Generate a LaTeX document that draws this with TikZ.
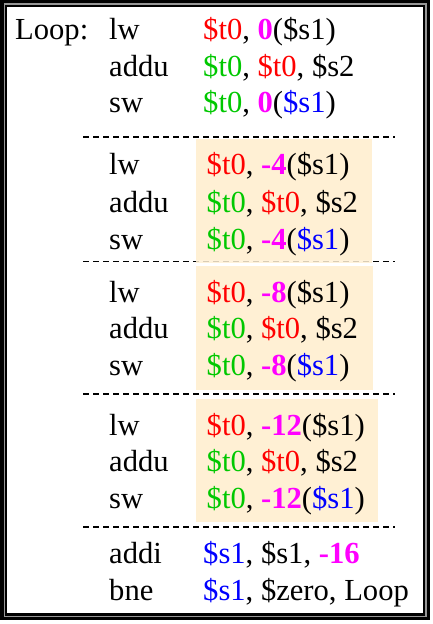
\documentclass[tikz,border=0pt]{standalone}
\usepackage{fontspec}
\setmainfont{Liberation Serif}
\definecolor{cred}{RGB}{255,0,0}
\definecolor{cgrn}{RGB}{0,200,0}
\definecolor{cmag}{RGB}{255,0,255}
\definecolor{cblu}{RGB}{0,0,255}
\definecolor{hlfill}{RGB}{255,240,212}
\definecolor{framegray}{RGB}{150,150,150}
\newcommand{\myred}[1]{\textcolor{cred}{#1}}
\newcommand{\mygrn}[1]{\textcolor{cgrn}{#1}}
\newcommand{\mymag}[1]{\textcolor{cmag}{\textbf{#1}}}
\newcommand{\myblu}[1]{\textcolor{cblu}{#1}}
\begin{document}
\begin{tikzpicture}[x=1bp,y=-1bp,
  txt/.style={anchor=base west, inner sep=0pt, font=\fontsize{30.6bp}{36bp}\selectfont},
  sepline/.style={line width=1.5bp, dash pattern=on 6bp off 4bp},
  hlbox/.style={fill=hlfill, draw=none}]
\useasboundingbox (0,0) rectangle (433,624);
% frame
\fill[black] (0,0.5) rectangle (430,620);
\fill[framegray] (3.5,3.5) rectangle (426.7,617);
\fill[black] (5.3,5.3) rectangle (425,615.5);
\fill[white] (7.3,7.3) rectangle (423,613.3);
% separators
\draw[sepline] (83,137) -- (395,137);
\draw[sepline] (83,261.5) -- (395,261.5);
\draw[sepline] (83,394) -- (395,394);
\draw[sepline] (83,527) -- (395,527);
% highlight boxes
\fill[hlbox, fill opacity=0.85] (196,139) rectangle (372,263);
\fill[hlbox] (196,139) rectangle (372,259.5);
\fill[hlbox] (196,266) rectangle (373,390);
\fill[hlbox] (196,399) rectangle (378,522);
% group 1
\node[txt] (loop) at (15,40) {Loop:};
\node[txt] (m1) at (109,40) {lw};
\node[txt] (o1) at (203,40) {\myred{\$t0}, \mymag{0}(\$s1)};
\node[txt] (m2) at (109,76.5) {addu};
\node[txt] (o2) at (203,76.5) {\mygrn{\$t0}, \myred{\$t0}, \$s2};
\node[txt] (m3) at (109,113) {sw};
\node[txt] (o3) at (203,113) {\mygrn{\$t0}, \mymag{0}(\myblu{\$s1})};
% group 2
\node[txt] (m4) at (109,175) {lw};
\node[txt] (o4) at (206.5,175) {\myred{\$t0}, \mymag{-4}(\$s1)};
\node[txt] (m5) at (109,212) {addu};
\node[txt] (o5) at (206.5,212) {\mygrn{\$t0}, \myred{\$t0}, \$s2};
\node[txt] (m6) at (109,249) {sw};
\node[txt] (o6) at (206.5,249) {\mygrn{\$t0}, \mymag{-4}(\myblu{\$s1})};
% group 3
\node[txt] (m7) at (109,302) {lw};
\node[txt] (o7) at (206.5,302) {\myred{\$t0}, \mymag{-8}(\$s1)};
\node[txt] (m8) at (109,338.5) {addu};
\node[txt] (o8) at (206.5,338.5) {\mygrn{\$t0}, \myred{\$t0}, \$s2};
\node[txt] (m9) at (109,375) {sw};
\node[txt] (o9) at (206.5,375) {\mygrn{\$t0}, \mymag{-8}(\myblu{\$s1})};
% group 4
\node[txt] (m10) at (109,435) {lw};
\node[txt] (o10) at (206.5,435) {\myred{\$t0}, \mymag{-12}(\$s1)};
\node[txt] (m11) at (109,471.5) {addu};
\node[txt] (o11) at (206.5,471.5) {\mygrn{\$t0}, \myred{\$t0}, \$s2};
\node[txt] (m12) at (109,508) {sw};
\node[txt] (o12) at (206.5,508) {\mygrn{\$t0}, \mymag{-12}(\myblu{\$s1})};
% group 5
\node[txt] (m13) at (109,563) {addi};
\node[txt] (o13) at (203,563) {\myblu{\$s1}, \$s1, \mymag{-16}};
\node[txt] (m14) at (109,600) {bne};
\node[txt] (o14) at (203,600) {\myblu{\$s1}, \$zero, Loop};
\end{tikzpicture}
\end{document}
